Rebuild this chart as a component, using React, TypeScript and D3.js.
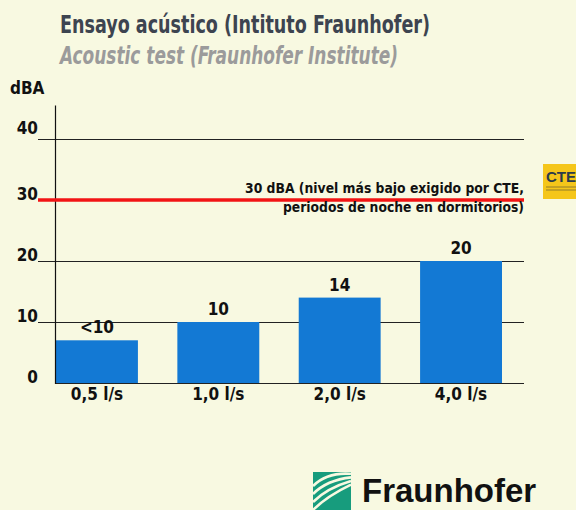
import React, { useEffect, useRef } from 'react'
import * as d3 from 'd3'

const categories = ['0,5 l/s', '1,0 l/s', '2,0 l/s', '4,0 l/s']
const values = [7, 10, 14, 20]
const valueLabels = ['<10', '10', '14', '20']
const yTicks = [0, 10, 20, 30, 40]
const limitValue = 30
const limitText = ['30 dBA (nivel más bajo exigido por CTE,', 'periodos de noche en dormitorios)']

const FONT = "'DejaVu Sans Condensed', 'DejaVu Sans', sans-serif"

function App() {
    const svgRef = useRef<SVGSVGElement>(null)

    const width = 576
    const height = 510

    useEffect(() => {
        document.body.style.margin = '0'
        const svg = d3.select(svgRef.current)
        svg.selectAll('*').remove()

        svg.append('rect')
            .attr('width', width)
            .attr('height', height)
            .attr('fill', '#F8F9E1')

        const x = d3.scaleBand()
            .domain(categories)
            .range([56, 502])
            .paddingInner(0.325)
            .paddingOuter(0)

        const y = d3.scaleLinear()
            .domain([0, 40])
            .range([383, 139])

        const gridLeft = 38
        const gridRight = 524

        // titles
        svg.append('text')
            .attr('x', 60).attr('y', 33)
            .attr('textLength', 370).attr('lengthAdjust', 'spacingAndGlyphs')
            .style('font-family', FONT).style('font-weight', 700).style('font-size', '24px')
            .style('fill', '#3D4450')
            .text('Ensayo acústico (Intituto Fraunhofer)')

        svg.append('text')
            .attr('x', 60).attr('y', 64)
            .attr('textLength', 338).attr('lengthAdjust', 'spacingAndGlyphs')
            .style('font-family', FONT).style('font-weight', 700).style('font-style', 'italic')
            .style('font-size', '24px').style('fill', '#9B9B9B')
            .text('Acoustic test (Fraunhofer Institute)')

        svg.append('text')
            .attr('x', 10).attr('y', 94)
            .style('font-family', FONT).style('font-weight', 700).style('font-size', '17px')
            .style('fill', '#111')
            .text('dBA')

        // gridlines
        svg.selectAll('.grid')
            .data(yTicks.filter(d => d !== 0 && d !== limitValue))
            .enter().append('line')
            .attr('x1', gridLeft).attr('x2', gridRight)
            .attr('y1', d => y(d) + 0.5).attr('y2', d => y(d) + 0.5)
            .attr('stroke', '#222').attr('stroke-width', 1)

        // baseline
        svg.append('line')
            .attr('x1', x(categories[0])!).attr('x2', gridRight)
            .attr('y1', y(0) + 0.5).attr('y2', y(0) + 0.5)
            .attr('stroke', '#222').attr('stroke-width', 1)

        // bars
        svg.selectAll('.bar')
            .data(values)
            .enter().append('rect')
            .attr('x', (d, i) => x(categories[i])!)
            .attr('y', d => y(d))
            .attr('width', x.bandwidth())
            .attr('height', d => y(0) - y(d))
            .style('fill', '#1379D4')

        // y axis line
        svg.append('line')
            .attr('x1', 55.5).attr('x2', 55.5)
            .attr('y1', y(45.5)).attr('y2', y(0) + 1)
            .attr('stroke', '#111').attr('stroke-width', 1.2)

        // limit line
        svg.append('line')
            .attr('x1', gridLeft).attr('x2', gridRight)
            .attr('y1', y(limitValue)).attr('y2', y(limitValue))
            .attr('stroke', '#F21414').attr('stroke-width', 3.5)

        svg.selectAll('.limit-label')
            .data(limitText)
            .enter().append('text')
            .attr('x', gridRight)
            .attr('y', (d, i) => y(limitValue) - 7 + i * 19)
            .attr('text-anchor', 'end')
            .attr('textLength', (d, i) => (i === 0 ? 279 : 241))
            .attr('lengthAdjust', 'spacingAndGlyphs')
            .style('font-family', FONT).style('font-weight', 700).style('font-size', '14px')
            .style('fill', '#111')
            .text(d => d)

        // y tick labels
        svg.selectAll('.ytick')
            .data(yTicks)
            .enter().append('text')
            .attr('x', gridLeft)
            .attr('y', d => y(d) - (d === 40 ? 5 : 0))
            .attr('text-anchor', 'end')
            .style('font-family', FONT).style('font-weight', 700).style('font-size', '17px')
            .style('fill', '#111')
            .text(d => d)

        // value labels
        svg.selectAll('.vlabel')
            .data(values)
            .enter().append('text')
            .attr('x', (d, i) => x(categories[i])! + x.bandwidth() / 2)
            .attr('y', d => y(d) - 7)
            .attr('text-anchor', 'middle')
            .style('font-family', FONT).style('font-weight', 700).style('font-size', '17px')
            .style('fill', '#111')
            .text((d, i) => valueLabels[i])

        // category labels
        svg.selectAll('.xlabel')
            .data(categories)
            .enter().append('text')
            .attr('x', d => x(d)! + x.bandwidth() / 2)
            .attr('y', 400)
            .attr('text-anchor', 'middle')
            .style('font-family', FONT).style('font-weight', 700).style('font-size', '17px')
            .style('fill', '#111')
            .text(d => d)

        // CTE logo
        const cte = svg.append('g').attr('transform', 'translate(543,164)')
        cte.append('rect').attr('width', 40).attr('height', 35).attr('fill', '#F5C61A')
        cte.append('text')
            .attr('x', 3).attr('y', 18)
            .style('font-family', "'Liberation Sans', Arial, sans-serif").style('font-weight', 700)
            .style('font-size', '15px').style('fill', '#2B3A4A')
            .text('CTE')
        cte.append('line').attr('x1', 3).attr('x2', 40).attr('y1', 23).attr('y2', 23)
            .attr('stroke', '#7A6A30').attr('stroke-width', 0.8)
        cte.append('line').attr('x1', 3).attr('x2', 40).attr('y1', 26).attr('y2', 26)
            .attr('stroke', '#7A6A30').attr('stroke-width', 0.8)

        // Fraunhofer logo
        const fh = svg.append('g').attr('transform', 'translate(313,472)')
        fh.append('rect').attr('width', 38).attr('height', 38).attr('fill', '#179C7D')
        const stripes = [4, 12, 20, 28]
        fh.selectAll('.stripe')
            .data(stripes)
            .enter().append('path')
            .attr('d', d => `M0,${d + 10} Q14,${d - 4} 38,${d * 0.45}`)
            .attr('fill', 'none')
            .attr('stroke', '#F8F9E1')
            .attr('stroke-width', 2.6)
        svg.append('text')
            .attr('x', 362).attr('y', 502)
            .style('font-family', "'Liberation Sans', Arial, sans-serif").style('font-weight', 700)
            .style('font-size', '33px').style('fill', '#111')
            .text('Fraunhofer')
    }, [])

    return (
        <svg ref={svgRef} width={width} height={height} style={{ display: 'block' }} />
    )
}

export default App
